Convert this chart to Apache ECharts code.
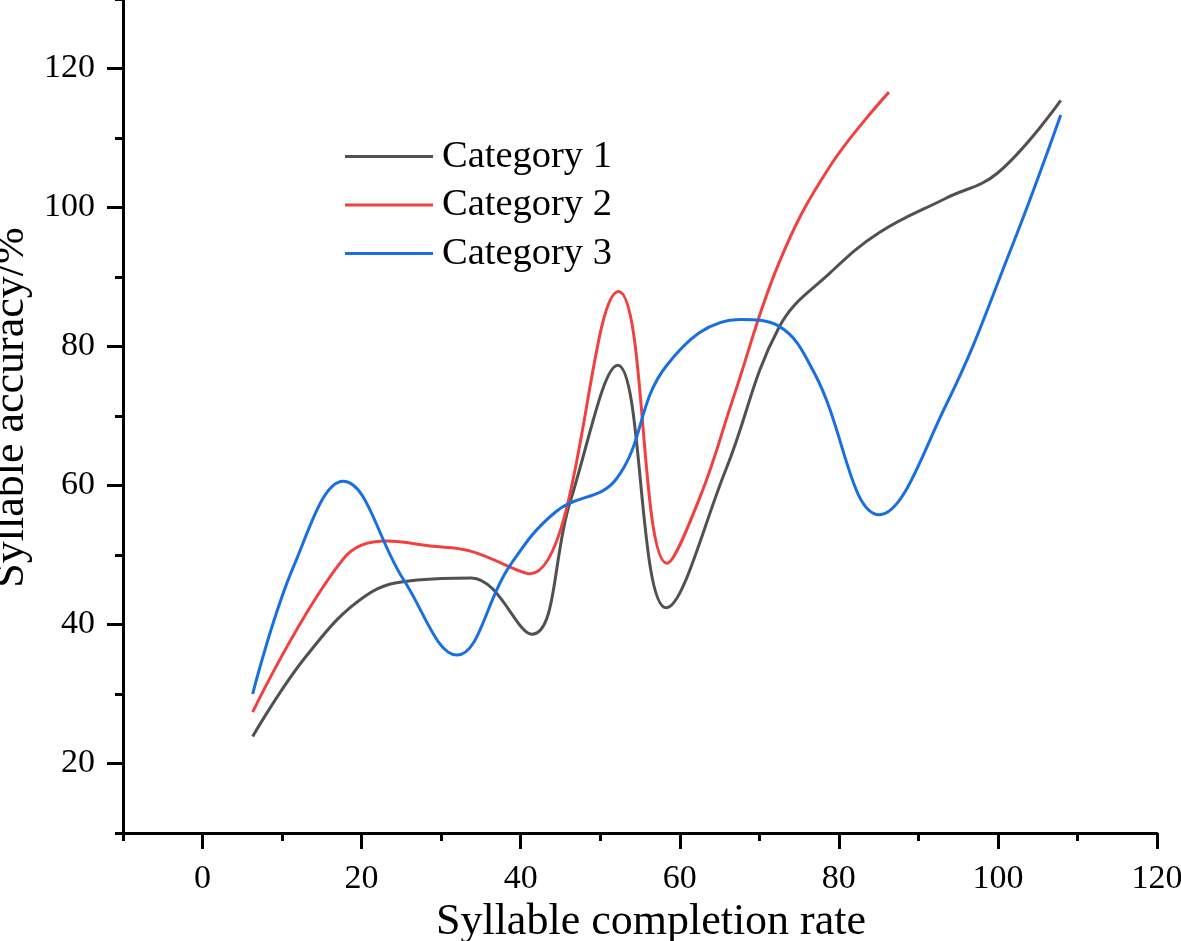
<!DOCTYPE html>
<html>
<head>
<meta charset="utf-8">
<script src="https://cdn.jsdelivr.net/npm/echarts@6/dist/echarts.min.js"></script>
<style>
html,body{margin:0;padding:0;background:#fff;}
#chart{width:1181px;height:941px;}
</style>
</head>
<body>
<div id="chart"></div>
<script>
const seriesNames = ['Category 1', 'Category 2', 'Category 3'];
const xTickLabels = [0, 20, 40, 60, 80, 100, 120];
const yTickLabels = [20, 40, 60, 80, 100, 120];

const category1 = [
  [6.3, 23.9], [13.0, 35.4], [20.6, 44.2], [27.0, 46.4], [33.8, 46.7], [41.4, 38.6],
  [46.2, 57.6], [52.2, 77.3], [58.3, 42.4], [65.8, 62.3], [72.5, 82.8], [79.0, 90.7],
  [85.1, 96.4], [93.4, 101.3], [100.0, 105.0], [107.9, 115.4]
];
const category2 = [
  [6.3, 27.4], [17.6, 49.3], [23.2, 52.0], [28.6, 51.3], [33.6, 50.6],
  [41.2, 47.3], [52.3, 87.9], [58.4, 48.8], [62.6, 58.5], [66.7, 72.5],
  [72.5, 92.1], [78.8, 105.8], [86.3, 116.6]
];
const category3 = [
  [6.3, 30.0], [11.5, 48.5], [17.7, 60.6], [25.3, 46.4], [32.0, 35.6], [38.6, 48.4],
  [44.5, 56.3], [52.0, 60.9], [58.3, 77.2], [67.6, 83.9], [72.5, 82.9], [77.0, 76.0],
  [85.1, 55.8], [93.4, 71.4], [101.8, 94.5], [107.9, 113.3]
];
const seriesData = [category1, category2, category3];
const colors = ['#515151', '#F14040', '#1A6FDF'];

const FONT = '"Liberation Serif", "Times New Roman", serif';
const xMinor = [-10, 10, 30, 50, 70, 90, 110];
const yMinor = [10, 30, 50, 70, 90, 110, 130];

const chart = echarts.init(document.getElementById('chart'), null, {renderer: 'canvas'});

function baseX(extra) {
  return Object.assign({
    type: 'value', min: -10, max: 120, position: 'bottom',
    splitLine: {show: false}
  }, extra);
}
function baseY(extra) {
  return Object.assign({
    type: 'value', min: 10, max: 130, position: 'left',
    splitLine: {show: false}
  }, extra);
}

const option = {
  backgroundColor: '#ffffff',
  animation: false,
  color: colors,
  grid: {left: 123, right: 24, top: -1, bottom: 108, containLabel: false, outerBoundsMode: 'none'},
  legend: {
    orient: 'vertical', left: 340, top: 132,
    icon: 'rect', itemWidth: 88, itemHeight: 3, itemGap: 9.5,
    textStyle: {fontFamily: FONT, fontSize: 38.5, color: '#000', lineHeight: 38, padding: [0, 0, 0, 4]},
    data: seriesNames
  },
  xAxis: [
    baseX({
      name: 'Syllable completion rate', nameLocation: 'middle', nameGap: 67,
      nameTextStyle: {fontFamily: FONT, fontSize: 44, color: '#000', padding: [0, 0, 0, 22]},
      axisLine: {show: true, onZero: false, lineStyle: {color: '#000', width: 3}},
      axisTick: {show: true, inside: false, length: 16, lineStyle: {color: '#000', width: 3},
                 customValues: xTickLabels},
      axisLabel: {fontFamily: FONT, fontSize: 34, color: '#000', margin: 29,
                  customValues: xTickLabels}
    }),
    baseX({
      axisLine: {show: false, onZero: false},
      axisTick: {show: true, inside: false, length: 8, lineStyle: {color: '#000', width: 3},
                 customValues: xMinor},
      axisLabel: {show: false}
    })
  ],
  yAxis: [
    baseY({
      name: 'Syllable accuracy/%', nameLocation: 'middle', nameGap: 81, nameRotate: 90,
      nameTextStyle: {fontFamily: FONT, fontSize: 44, color: '#000', padding: [0, 0, 0, 17]},
      axisLine: {show: true, onZero: false, lineStyle: {color: '#000', width: 3}},
      axisTick: {show: true, inside: false, length: 16, lineStyle: {color: '#000', width: 3},
                 customValues: yTickLabels},
      axisLabel: {fontFamily: FONT, fontSize: 34, color: '#000', margin: 28,
                  customValues: yTickLabels}
    }),
    baseY({
      axisLine: {show: false, onZero: false},
      axisTick: {show: true, inside: false, length: 8, lineStyle: {color: '#000', width: 3},
                 customValues: yMinor},
      axisLabel: {show: false}
    })
  ],
  series: seriesNames.map((name, i) => ({
    name: name,
    type: 'line',
    data: seriesData[i],
    smooth: 0.4,
    symbol: 'none',
    showSymbol: false,
    clip: false,
    lineStyle: {color: colors[i], width: 3},
    itemStyle: {color: colors[i]},
    xAxisIndex: 0, yAxisIndex: 0
  }))
};
chart.setOption(option);
</script>
</body>
</html>
